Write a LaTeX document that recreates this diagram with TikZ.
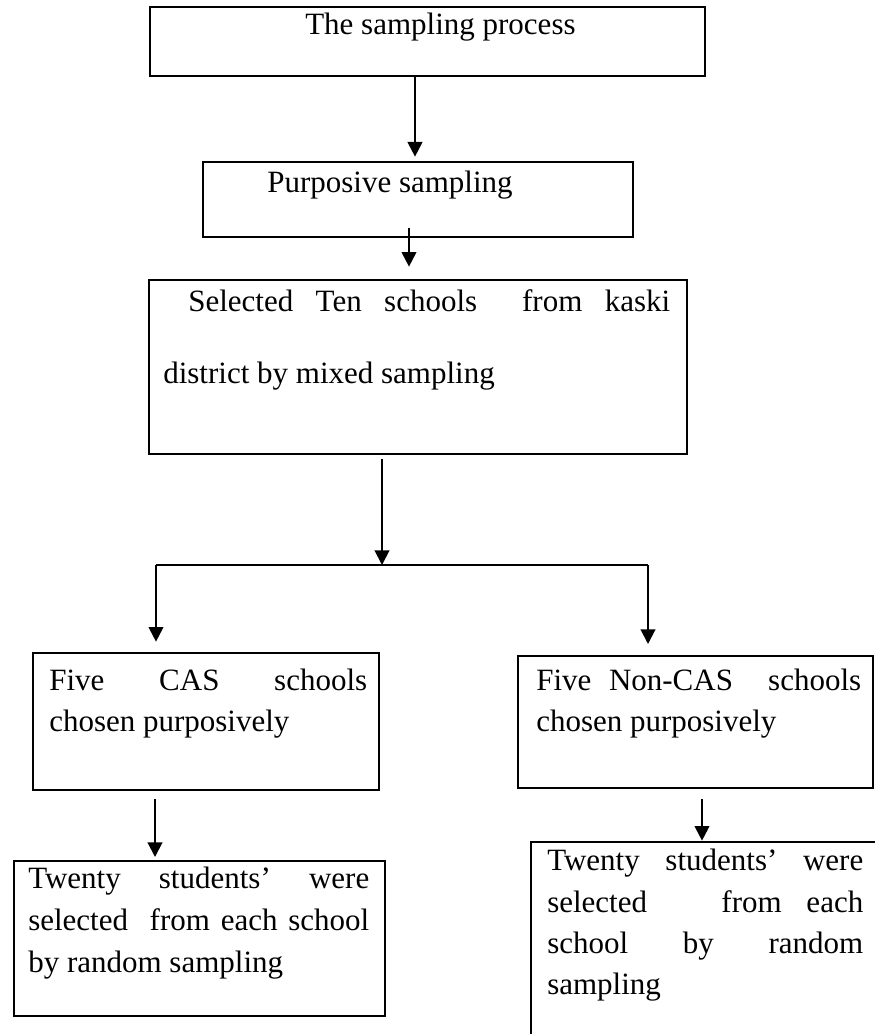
\documentclass[tikz,border=0pt]{standalone}
\usepackage{fontspec}
\setmainfont{Liberation Serif}
\usetikzlibrary{arrows.meta,fit}
\newdimen\pxu \pxu=0.75pt
\begin{document}
\begin{tikzpicture}[x=0.75pt,y=-0.75pt,
  flowbox/.style={draw,line width=2pt,inner sep=0pt},
  txt/.style={anchor=base west,inner sep=0pt,font=\fontsize{23.25pt}{27pt}\selectfont},
  link/.style={line width=1.5pt},
  arr/.style={line width=1.5pt,-{Triangle[length=11pt,width=11pt]}}]
\useasboundingbox (0,0) rectangle (874,1034);

% boxes
\node[flowbox,fit={(150,7)(705,76)}] (top) {};
\node[flowbox,fit={(203,162)(633,237)}] (purp) {};
\node[flowbox,fit={(149,280)(687,454)}] (ten) {};
\node[flowbox,fit={(33,653)(379,790)}] (cas) {};
\node[flowbox,fit={(518,656)(873,788)}] (noncas) {};
\node[flowbox,fit={(14,861)(385,1016)}] (stuA) {};
\node[flowbox,fit={(531,842)(885,1045)}] (stuB) {};

% texts
\node[txt] (t1) at (305,35) {The sampling process};
\node[txt] (t2) at (267,193) {Purposive sampling};
\node[txt] (t3a) at (188,311) {\makebox[482\pxu][s]{Selected Ten schools\ \ from kaski}};
\node[txt] (t3b) at (163,383) {district by mixed sampling};
\node[txt] (t4a) at (49,690) {\makebox[318\pxu][s]{Five CAS schools}};
\node[txt] (t4b) at (49,731) {chosen purposively};
\node[txt] (t5a) at (536,690) {\makebox[325\pxu][s]{Five Non-CAS\ \ schools}};
\node[txt] (t5b) at (536,731) {chosen purposively};
\node[txt] (t6a) at (28,888) {\makebox[341\pxu][s]{Twenty students’ were}};
\node[txt] (t6b) at (28,930) {\makebox[341\pxu][s]{selected\ \ from each school}};
\node[txt] (t6c) at (28,972) {by random sampling};
\node[txt] (t7a) at (547,870) {\makebox[316\pxu][s]{Twenty students’ were}};
\node[txt] (t7b) at (547,912) {\makebox[316\pxu][s]{selected\ \ \ from each}};
\node[txt] (t7c) at (547,953) {\makebox[316\pxu][s]{school by random}};
\node[txt] (t7d) at (547,994) {sampling};

% branch points
\coordinate (bm) at (382,565);
\coordinate (bl) at (156,565);
\coordinate (br) at (648,565);

% connectors
\draw[arr,shorten >=3pt] (top.south -| 415,0) -- (purp.north -| 415,0);
\draw[arr,shorten <=-7.5pt,shorten >=9pt] (purp.south -| 409,0) -- (ten.north -| 409,0);
\draw[arr,shorten <=3pt] (ten.south -| bm) -- (bm);
\draw[link] (bl) -- (br);
\draw[arr,shorten >=7.5pt] (bl) -- (cas.north -| bl);
\draw[arr,shorten >=8pt] (br) -- (noncas.north -| br);
\draw[arr,shorten <=6pt,shorten >=2pt] (cas.south -| 155,0) -- (stuA.north -| 155,0);
\draw[arr,shorten <=7.5pt] (noncas.south -| 702,0) -- (stuB.north -| 702,0);
\end{tikzpicture}
\end{document}
